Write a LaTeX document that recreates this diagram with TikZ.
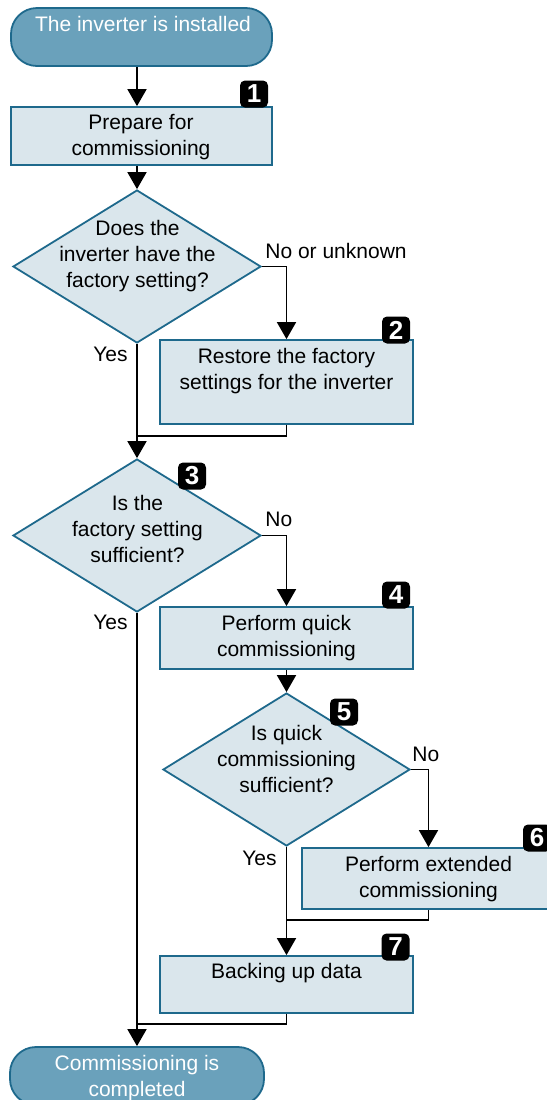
\documentclass[tikz,border=0pt]{standalone}
\usepackage{fontspec}
\setmainfont{Liberation Sans}
\usetikzlibrary{shapes.geometric,arrows.meta}
\definecolor{edgec}{RGB}{30,105,140}
\definecolor{termfill}{RGB}{106,161,187}
\definecolor{boxfill}{RGB}{218,230,236}
\begin{document}
\begin{tikzpicture}[x=0.5pt,y=-0.5pt,
 txt/.style={font=\fontsize{10.5pt}{13pt}\selectfont, inner sep=0pt, align=center, anchor=north},
 wtxt/.style={txt, text=white},
 terminal/.style={draw=edgec, fill=termfill, line width=0.9pt, rounded corners=13pt, minimum width=#1, minimum height=29pt, inner sep=0pt},
 stepbox/.style={draw=edgec, fill=boxfill, line width=0.9pt, minimum width=126.5pt, minimum height=#1, inner sep=0pt},
 decision/.style={diamond, draw=edgec, fill=boxfill, line width=0.9pt, minimum width=#1, minimum height=76.5pt, inner sep=0pt},
 badge/.style={fill=black, rounded corners=2.5pt, minimum width=14pt, minimum height=13.5pt, inner sep=0pt, text=white, font=\fontsize{13pt}{13pt}\selectfont\bfseries},
 conn/.style={draw=black, line width=0.9pt},
 arr/.style={conn, -{Triangle[length=8.5pt,width=9.5pt]}},
 lbl/.style={font=\fontsize{10.5pt}{13pt}\selectfont, inner sep=0pt}
]
\useasboundingbox (0,0) rectangle (547,1100);

% shapes
\node[terminal=130.5pt] (start) at (141.5,37) {};
\node[wtxt] (tstart) at (143,15.5) {The inverter is installed};

\node[stepbox=29pt, minimum width=130.5pt] (box1) at (141.5,136) {};
\node[txt] (tbox1) at (141,113.5) {Prepare for\\commissioning};
\node[badge] (b1) at (254,94) {1};

\node[decision=124pt] (d1) at (137,266.5) {};
\node[txt] (td1) at (137.5,219.5) {Does the\\inverter have the\\factory setting?};

\node[stepbox=42pt] (box2) at (286.5,382) {};
\node[txt] (tbox2) at (286.5,347.5) {Restore the factory\\settings for the inverter};
\node[badge] (b2) at (396,330) {2};

\node[decision=124pt] (d2) at (137,535.5) {};
\node[txt] (td2) at (137.5,494.5) {Is the\\factory setting\\sufficient?};
\node[badge] (b3) at (192,476) {3};

\node[stepbox=31pt] (box4) at (286.5,638) {};
\node[txt] (tbox4) at (286.5,614.5) {Perform quick\\commissioning};
\node[badge] (b4) at (396,595) {4};

\node[decision=123.5pt] (d3) at (286.5,769.5) {};
\node[txt] (td3) at (286.5,724.5) {Is quick\\commissioning\\sufficient?};
\node[badge] (b5) at (344,712) {5};

\node[stepbox=30.5pt] (box6) at (428.5,878.5) {};
\node[txt] (tbox6) at (428.5,855.5) {Perform extended\\commissioning};
\node[badge] (b6) at (537,838) {6};

\node[stepbox=28.5pt] (box7) at (286.5,984.5) {};
\node[txt] (tbox7) at (286.5,962.5) {Backing up data};
\node[badge] (b7) at (395.5,947) {7};

\node[terminal=127pt] (endt) at (137,1076) {};
\node[wtxt] (tend) at (137,1054.5) {Commissioning is\\completed};

% labels
\node[lbl, anchor=base west] (lno1) at (265,258) {No or unknown};
\node[lbl, anchor=base east] (lyes1) at (128,361) {Yes};
\node[lbl, anchor=base west] (lno2) at (265,526) {No};
\node[lbl, anchor=base east] (lyes2) at (128,629) {Yes};
\node[lbl, anchor=base west] (lno3) at (412,761) {No};
\node[lbl, anchor=base east] (lyes3) at (277,865) {Yes};

% junctions
\coordinate (j1) at (137,436);
\coordinate (j2) at (286.5,920);
\coordinate (j3) at (137,1024);

% connectors
\draw[arr] (start.south -| d1.north) -- (box1.north -| d1.north);
\draw[arr] (box1.south -| d1.north) -- (d1.north);
\draw[arr] (d1.east) -| (box2.north);
\draw[arr] (d1.south) -- (d2.north);
\draw[conn] (box2.south) |- (j1);
\draw[arr] (d2.east) -| (box4.north);
\draw[arr] (d2.south) -- (endt.north);
\draw[arr] (box4.south) -- (d3.north);
\draw[arr] (d3.east) -| (box6.north);
\draw[arr] (d3.south) -- (box7.north);
\draw[conn] (box6.south) |- (j2);
\draw[conn] (box7.south) |- (j3);
\end{tikzpicture}
\end{document}
